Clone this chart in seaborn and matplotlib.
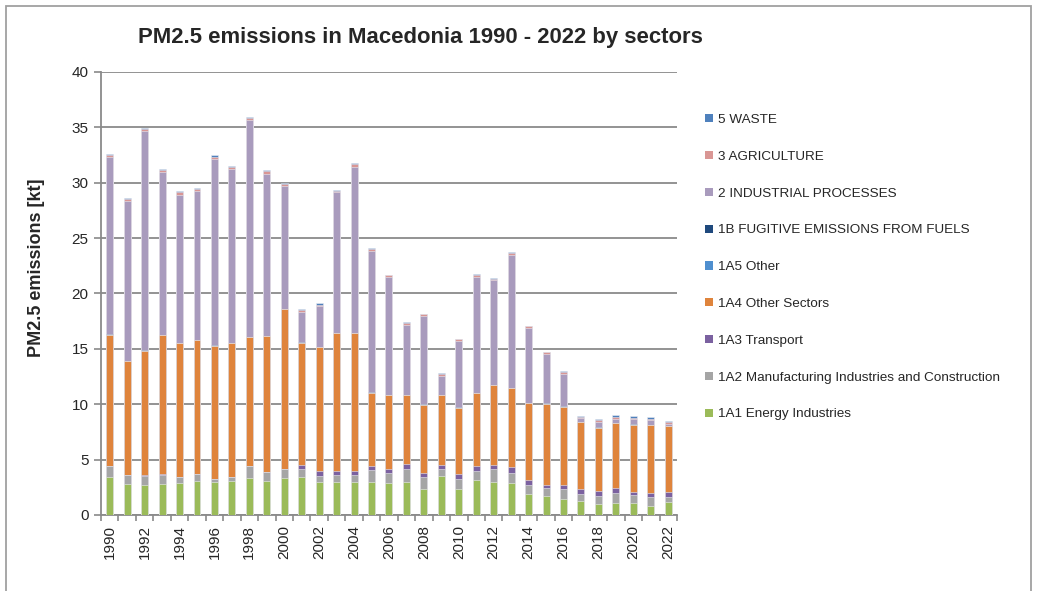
import numpy as np
import pandas as pd
import matplotlib
matplotlib.use("Agg")
import matplotlib.pyplot as plt
from matplotlib.patches import Rectangle, Patch
import seaborn as sns

years = list(range(1990, 2023))

e_1A1 = [3.46, 2.77, 2.68, 2.77, 2.86, 3.04, 2.95, 3.04, 3.31, 3.04, 3.34,
         3.46, 3.01, 3.01, 3.01, 2.95, 2.89, 3.01, 2.35, 3.52, 2.32, 3.16,
         3.01, 2.86, 1.90, 1.74, 1.42, 1.23, 0.96, 1.05, 1.08, 0.84, 1.17]
e_1A2 = [0.93, 0.81, 0.87, 0.87, 0.54, 0.63, 0.30, 0.36, 1.08, 0.84, 0.78,
         0.66, 0.51, 0.60, 0.60, 1.11, 0.90, 1.17, 1.08, 0.63, 0.93, 0.84,
         1.11, 0.96, 0.81, 0.72, 0.90, 0.69, 0.75, 0.91, 0.70, 0.78, 0.48]
e_1A3 = [0.05, 0.02, 0.03, 0.02, 0.02, 0.05, 0.02, 0.02, 0.05, 0.02, 0.05,
         0.36, 0.48, 0.39, 0.39, 0.39, 0.39, 0.45, 0.39, 0.39, 0.42, 0.42,
         0.42, 0.51, 0.42, 0.25, 0.42, 0.46, 0.43, 0.45, 0.32, 0.34, 0.40]
e_1A4 = [11.83, 10.30, 11.25, 12.59, 12.08, 12.04, 12.01, 12.08, 11.60, 12.23, 14.40,
         11.07, 11.13, 12.40, 12.40, 6.59, 6.62, 6.17, 6.14, 6.26, 6.01, 6.56,
         7.19, 7.13, 6.98, 7.34, 7.03, 5.99, 5.74, 5.86, 6.05, 6.16, 5.98]
e_1A5 = [0.01, 0.01, 0.01, 0.01, 0.01, 0.01, 0.01, 0.01, 0.01, 0.01, 0.01,
         0.01, 0.01, 0.01, 0.01, 0.01, 0.01, 0.01, 0.01, 0.01, 0.01, 0.01,
         0.01, 0.01, 0.01, 0.01, 0.01, 0.01, 0.01, 0.01, 0.01, 0.01, 0.01]
e_1B = [0.02, 0.02, 0.02, 0.02, 0.02, 0.02, 0.02, 0.02, 0.02, 0.02, 0.02,
        0.02, 0.02, 0.02, 0.02, 0.02, 0.02, 0.02, 0.02, 0.02, 0.02, 0.02,
        0.02, 0.02, 0.02, 0.02, 0.02, 0.02, 0.02, 0.05, 0.05, 0.02, 0.02]
e_2 = [16.01, 14.38, 19.80, 14.65, 13.40, 13.42, 16.82, 15.70, 19.55, 14.67, 11.15,
       2.75, 3.67, 12.69, 15.03, 12.73, 10.62, 6.35, 7.94, 1.75, 5.96, 10.44,
       9.45, 12.01, 6.71, 4.42, 2.93, 0.35, 0.49, 0.36, 0.42, 0.39, 0.18]
e_3 = [0.20, 0.20, 0.18, 0.22, 0.24, 0.22, 0.23, 0.20, 0.22, 0.24, 0.15,
       0.19, 0.17, 0.16, 0.20, 0.22, 0.18, 0.18, 0.18, 0.18, 0.18, 0.22,
       0.12, 0.19, 0.18, 0.18, 0.22, 0.12, 0.18, 0.18, 0.15, 0.15, 0.12]
e_5 = [0.10, 0.10, 0.12, 0.11, 0.10, 0.10, 0.10, 0.10, 0.11, 0.10, 0.07,
       0.10, 0.10, 0.08, 0.08, 0.08, 0.06, 0.06, 0.06, 0.06, 0.06, 0.08,
       0.06, 0.08, 0.06, 0.06, 0.08, 0.09, 0.08, 0.12, 0.12, 0.12, 0.09]

sector_names = ["1A1 Energy Industries",
                "1A2 Manufacturing Industries and Construction",
                "1A3 Transport",
                "1A4 Other Sectors",
                "1A5 Other",
                "1B FUGITIVE EMISSIONS FROM FUELS",
                "2 INDUSTRIAL PROCESSES",
                "3 AGRICULTURE",
                "5 WASTE"]
sector_values = [e_1A1, e_1A2, e_1A3, e_1A4, e_1A5, e_1B, e_2, e_3, e_5]
sector_colors = ["#9BBB59", "#A5A5A5", "#7B61A0", "#DF843C", "#4F8FCF",
                 "#1F497D", "#A99BBD", "#D99694", "#4F81BD"]

# long table with cumulative heights for stacking
rows = []
for name, vals in zip(sector_names, sector_values):
    for y, v in zip(years, vals):
        rows.append({"year": str(y), "sector": name, "value": v})
df = pd.DataFrame(rows)
df["sector"] = pd.Categorical(df["sector"], categories=sector_names, ordered=True)
df = df.sort_values(["year", "sector"])
df["cum"] = df.groupby("year")["value"].cumsum()

sns.set_style("white")
plt.rcParams["font.family"] = ["Liberation Sans", "DejaVu Sans"]

fig = plt.figure(figsize=(10.38, 5.91), dpi=100)
ax = fig.add_axes([0.0973, 0.1286, 0.5549, 0.7496])

order = [str(y) for y in years]
for name, col in reversed(list(zip(sector_names, sector_colors))):
    sub = df[df["sector"] == name]
    sns.barplot(data=sub, x="year", y="cum", order=order, color=col,
                width=0.4, ax=ax, saturation=1, errorbar=None,
                edgecolor="#ECECF2", linewidth=0.4, zorder=3)

ax.set_ylim(0, 40)
ax.set_xlim(-0.5, len(years) - 0.5)
ax.set_yticks(np.arange(0, 41, 5))
ax.yaxis.grid(True, color="#8A8A8A", linewidth=1.3, zorder=0)
ax.set_axisbelow(True)
for s in ["top", "right"]:
    ax.spines[s].set_visible(False)
for s in ["left", "bottom"]:
    ax.spines[s].set_color("#8A8A8A")
    ax.spines[s].set_linewidth(1.3)

ax.set_xticks(range(len(years)))
ax.set_xticklabels([str(y) if y % 2 == 0 else "" for y in years],
                   rotation=90, fontsize=11)
ax.set_xticks(np.arange(-0.5, len(years), 1), minor=True)
ax.tick_params(axis="x", which="major", length=0, pad=7)
ax.tick_params(axis="x", which="minor", length=4, color="#8A8A8A", width=1.2,
               direction="out", bottom=True)
ax.tick_params(axis="y", length=5, color="#8A8A8A", width=1.2, direction="out",
               left=True, labelsize=11, pad=4)
ax.set_xlabel("")
ax.set_ylabel("PM2.5 emissions [kt]", fontsize=13, fontweight="bold")
ax.yaxis.set_label_coords(-0.098, 0.557)

fig.text(0.4046, 0.937, "PM2.5 emissions in Macedonia 1990 - 2022 by sectors",
         ha="center", va="center", fontsize=15.9, fontweight="bold")

handles = [Patch(facecolor=c, edgecolor="none") for c in sector_colors]
leg = fig.legend(handles[::-1], sector_names[::-1], loc="upper left",
                 bbox_to_anchor=(0.6795, 0.807), frameon=False, fontsize=9.7,
                 handlelength=0.55, handleheight=0.55, handletextpad=0.4,
                 labelspacing=1.84, borderaxespad=0, borderpad=0)

fig.patches.append(Rectangle((6 / 1038, -0.05), (1031 - 6) / 1038, 1.05 - 6 / 591,
                             transform=fig.transFigure, fill=False,
                             edgecolor="#A0A0A0", linewidth=1.3))

fig.savefig("out.png", dpi=100)
